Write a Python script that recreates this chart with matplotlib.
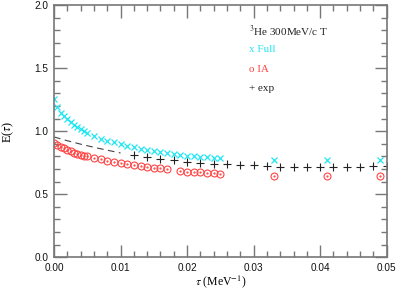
import matplotlib
matplotlib.use("Agg")
import matplotlib.pyplot as plt
from matplotlib.ticker import MultipleLocator

plt.rcParams['mathtext.fontset'] = 'stix'

tau_full = [0.0, 0.0005, 0.001, 0.0015, 0.002, 0.0025, 0.003, 0.0035, 0.004, 0.0045,
            0.005, 0.006, 0.007, 0.008, 0.009, 0.010, 0.011, 0.012, 0.013, 0.014,
            0.015, 0.016, 0.017, 0.018, 0.019, 0.020, 0.021, 0.022, 0.023, 0.024,
            0.025, 0.033, 0.041, 0.049]
e_full = [1.26, 1.19, 1.148, 1.12, 1.095, 1.074, 1.052, 1.034, 1.016, 1.0,
          0.984, 0.96, 0.94, 0.925, 0.912, 0.897, 0.886, 0.873, 0.86, 0.85,
          0.843, 0.835, 0.826, 0.818, 0.812, 0.806, 0.803, 0.798, 0.795, 0.792,
          0.79, 0.772, 0.772, 0.772]

tau_ia = [0.0, 0.0005, 0.001, 0.0015, 0.002, 0.0025, 0.003, 0.0035, 0.004, 0.0045,
          0.005, 0.006, 0.007, 0.008, 0.009, 0.010, 0.011, 0.012, 0.013, 0.014,
          0.015, 0.016, 0.017, 0.019, 0.020, 0.021, 0.022, 0.023, 0.024, 0.025,
          0.033, 0.041, 0.049]
e_ia = [0.91, 0.894, 0.878, 0.865, 0.852, 0.841, 0.830, 0.822, 0.814, 0.806,
        0.80, 0.79, 0.777, 0.767, 0.756, 0.748, 0.74, 0.733, 0.724, 0.719,
        0.711, 0.706, 0.698, 0.683, 0.68, 0.677, 0.674, 0.669, 0.667, 0.664,
        0.648, 0.648, 0.648]

tau_exp = [0.012, 0.014, 0.016, 0.018, 0.020, 0.022, 0.024, 0.026, 0.028, 0.030,
           0.032, 0.034, 0.036, 0.038, 0.040, 0.042, 0.044, 0.046, 0.048, 0.050]
e_exp = [0.812, 0.796, 0.78, 0.772, 0.759, 0.751, 0.74, 0.738, 0.733, 0.73,
         0.727, 0.72, 0.72, 0.72, 0.72, 0.72, 0.72, 0.72, 0.725, 0.725]

tau_dash = [0.0, 0.002, 0.004, 0.006, 0.008, 0.010]
e_dash = [0.955, 0.925, 0.898, 0.873, 0.85, 0.828]

fig = plt.figure(figsize=(3.98, 2.89), dpi=100)
ax = fig.add_axes([0.1357, 0.1097, 0.9716 - 0.1357, 0.9817 - 0.1097])

cyan = '#22e6f2'
red = '#ff4444'
ax.plot(tau_dash, e_dash, color='#444444', lw=0.8, dashes=(6, 4))
ax.plot(tau_full, e_full, 'x', color=cyan, ms=5, mew=0.9, ls='none')
ax.plot(tau_ia, e_ia, 'o', mfc='none', mec=red, ms=5, mew=0.8, ls='none')
ax.plot(tau_ia, e_ia, '.', color=red, ms=1.2, ls='none')
ax.plot(tau_exp, e_exp, '+', color='#222222', ms=5.5, mew=0.8, ls='none')

ax.set_xlim(0, 0.05)
ax.set_ylim(0, 2.0)
ax.xaxis.set_major_locator(MultipleLocator(0.01))
ax.xaxis.set_minor_locator(MultipleLocator(0.002))
ax.yaxis.set_major_locator(MultipleLocator(0.5))
ax.yaxis.set_minor_locator(MultipleLocator(0.1))
ax.xaxis.set_major_formatter(matplotlib.ticker.FormatStrFormatter('%.2f'))
ax.yaxis.set_major_formatter(matplotlib.ticker.FormatStrFormatter('%.1f'))

gray = '#777777'
for s in ax.spines.values():
    s.set_color(gray)
    s.set_linewidth(1.2)
ax.tick_params(which='both', direction='in', top=True, right=True, color=gray, width=1.0)
ax.tick_params(which='major', length=9, pad=4)
ax.tick_params(which='minor', length=4.5)
for lab in ax.get_xticklabels() + ax.get_yticklabels():
    lab.set_fontfamily('Liberation Sans')
    lab.set_fontsize(7.2)
    lab.set_color('#111111')

ax.set_xlabel(r'$\tau$ (MeV$^{-1}$)', fontfamily='Liberation Serif', fontsize=8.5, labelpad=0.5)
ax.set_ylabel(r'E($\tau$)', fontfamily='Liberation Serif', fontsize=9, labelpad=13)

tf = dict(transform=ax.transAxes, fontfamily='Liberation Serif', fontsize=8, va='center', ha='left')
ax.text(0.587, 0.895, r'$^3$He 300MeV/c T', color='#222222', **tf)
ax.text(0.587, 0.823, 'x Full', color=cyan, **tf)
ax.text(0.587, 0.746, 'o IA', color=red, **tf)
ax.text(0.587, 0.671, '+ exp', color='#222222', **tf)

fig.savefig('out.png', dpi=100)
